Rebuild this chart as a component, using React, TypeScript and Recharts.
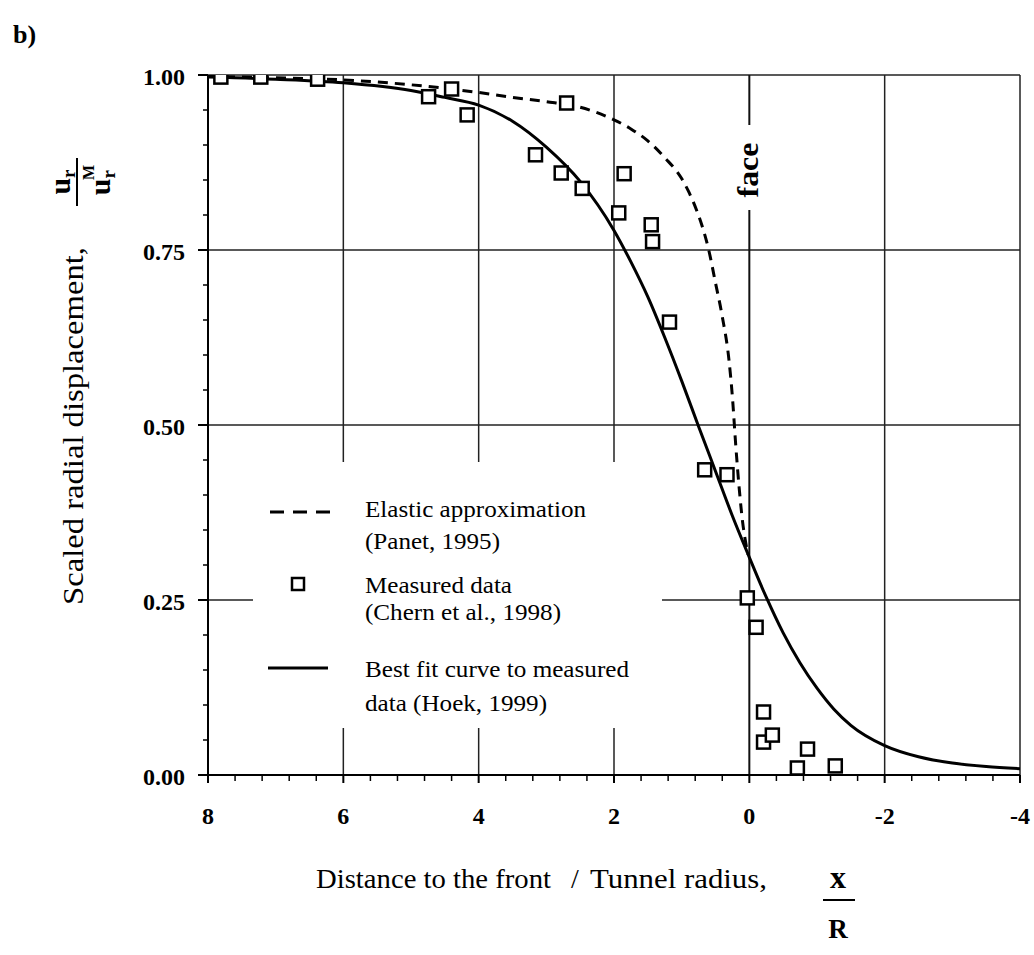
import React from 'react';
import { ComposedChart, Line, Scatter, XAxis, YAxis, ReferenceLine, Legend } from 'recharts';

const SERIF = "'Liberation Serif', 'Times New Roman', serif";

// axis ticks (every tick drawn; labelled ones are majors)
const xTicks = [8, 7.6, 7.2, 6.8, 6.4, 6, 5.6, 5.2, 4.8, 4.4, 4, 3.6, 3.2, 2.8, 2.4, 2, 1.6, 1.2, 0.8, 0.4, 0, -0.4, -0.8, -1.2, -1.6, -2, -2.4, -2.8, -3.2, -3.6, -4];
const yTicks = [0, 0.05, 0.1, 0.15, 0.2, 0.25, 0.3, 0.35, 0.4, 0.45, 0.5, 0.55, 0.6, 0.65, 0.7, 0.75, 0.8, 0.85, 0.9, 0.95, 1];
const gridX = [6, 4, 2, -2, -4];
const gridY = [0.25, 0.5, 0.75, 1];
const faceX = 0;

// Best fit curve to measured data (Hoek, 1999)
const fitX = [8, 7, 6, 5, 4.5, 4, 3.5, 3, 2.5, 2, 1.75, 1.5, 1.25, 1, 0.75, 0.5, 0.25, 0, -0.25, -0.5, -0.75, -1, -1.25, -1.5, -2, -2.5, -3, -3.5, -4];
const fitY = [0.997, 0.994, 0.989, 0.978, 0.968, 0.957, 0.934, 0.897, 0.848, 0.778, 0.733, 0.683, 0.625, 0.563, 0.498, 0.434, 0.37, 0.311, 0.254, 0.203, 0.16, 0.124, 0.094, 0.071, 0.042, 0.026, 0.017, 0.012, 0.009];

// Elastic approximation (Panet, 1995)
const elasticX = [8, 7, 6, 5, 4.5, 4, 3.5, 3, 2.5, 2, 1.75, 1.5, 1.25, 1, 0.9, 0.8, 0.7, 0.6, 0.5, 0.4, 0.3, 0.25, 0.2, 0.15, 0.1, 0.05, 0.02];
const elasticY = [0.998, 0.996, 0.993, 0.986, 0.981, 0.975, 0.968, 0.962, 0.954, 0.936, 0.923, 0.906, 0.882, 0.852, 0.834, 0.812, 0.785, 0.75, 0.703, 0.655, 0.592, 0.54, 0.47, 0.41, 0.362, 0.33, 0.315];

// Measured data (Chern et al., 1998)
const measuredX = [7.81, 7.22, 6.38, 4.74, 4.4, 4.17, 3.16, 2.78, 2.7, 2.47, 1.93, 1.85, 1.45, 1.43, 1.18, 0.66, 0.33, 0.03, -0.1, -0.21, -0.21, -0.34, -0.71, -0.86, -1.27];
const measuredY = [0.997, 0.997, 0.994, 0.969, 0.98, 0.943, 0.886, 0.86, 0.96, 0.838, 0.803, 0.859, 0.786, 0.762, 0.647, 0.436, 0.429, 0.253, 0.211, 0.09, 0.047, 0.057, 0.01, 0.037, 0.013];

const fitData = fitX.map((x, i) => ({ x, y: fitY[i] }));
const elasticData = elasticX.map((x, i) => ({ x, y: elasticY[i] }));
const measuredData = measuredX.map((x, i) => ({ x, y: measuredY[i] }));

const isMajorX = (v: number) => Math.abs(v / 2 - Math.round(v / 2)) < 1e-6;
const isMajorY = (v: number) => Math.abs(v * 4 - Math.round(v * 4)) < 1e-6;

const XTick = (props: any) => {
  const { x, y, payload } = props;
  const v = payload.value;
  const major = isMajorX(v);
  return (
    <g>
      <line x1={x} y1={y} x2={x} y2={y + (major ? 8 : 6)} stroke="#000" strokeWidth={major ? 2 : 1.5} />
      {major && (
        <text x={x} y={y + 48.5} textAnchor="middle" fontFamily={SERIF} fontSize={24} fontWeight="bold" fill="#000">
          {String(v)}
        </text>
      )}
    </g>
  );
};

const YTick = (props: any) => {
  const { x, y, payload } = props;
  const v = payload.value;
  const major = isMajorY(v);
  return (
    <g>
      <line x1={x - (major ? 10 : 5)} y1={y} x2={x} y2={y} stroke="#000" strokeWidth={major ? 2 : 1.5} />
      {major && (
        <text x={x - 23} y={y + 9.5} textAnchor="end" fontFamily={SERIF} fontSize={24} fontWeight="bold" fill="#000">
          {v.toFixed(2)}
        </text>
      )}
    </g>
  );
};

const XTitle = (props: any) => {
  const vb = props.viewBox || { x: 208, y: 775 };
  const bx = vb.x;
  const by = vb.y;
  return (
    <g fontFamily={SERIF} fill="#000">
      <text x={bx + 108} y={by + 113} fontSize={28} textLength={235} lengthAdjust="spacingAndGlyphs">Distance to the front</text>
      <text x={bx + 367} y={by + 113} fontSize={28} textAnchor="middle">/</text>
      <text x={bx + 382} y={by + 113} fontSize={28} textLength={177} lengthAdjust="spacingAndGlyphs">Tunnel radius,</text>
      <text x={bx + 630} y={by + 113} fontSize={32} fontWeight="bold" textAnchor="middle">x</text>
      <line x1={bx + 615} y1={by + 125} x2={bx + 647} y2={by + 125} stroke="#000" strokeWidth={2} />
      <text x={bx + 630} y={by + 163} fontSize={27} fontWeight="bold" textAnchor="middle">R</text>
    </g>
  );
};

const YTitle = (props: any) => {
  const vb = props.viewBox || { x: 0, y: 75 };
  const tx = vb.x + 83;
  const ty = vb.y + 530;
  const fx = vb.x + 77;
  const fy = vb.y + 107;
  return (
    <g fontFamily={SERIF} fill="#000">
      <text x={vb.x + 13} y={vb.y - 32} fontSize={26} fontWeight="bold">b)</text>
      <text x={tx} y={ty} fontSize={30} transform={`rotate(-90 ${tx} ${ty})`} textLength={358} lengthAdjust="spacingAndGlyphs">
        Scaled radial displacement,
      </text>
      <g transform={`rotate(-90 ${fx} ${fy})`}>
        <text x={fx} y={fy - 7} fontSize={30} fontWeight="bold" textAnchor="middle">
          u<tspan fontSize={19} dy={5}>r</tspan>
        </text>
        <line x1={fx - 24} y1={fy} x2={fx + 24} y2={fy} stroke="#000" strokeWidth={2} />
        <text x={fx + 2} y={fy + 33} fontSize={30} fontWeight="bold" textAnchor="middle">
          u<tspan fontSize={19} dy={5}>r</tspan>
          <tspan fontSize={16} dx={-10} dy={-21}>M</tspan>
        </text>
      </g>
    </g>
  );
};

const FaceLabel = (props: any) => {
  const vb = props.viewBox || { x: 749, y: 75 };
  const cx = vb.x;
  const top = vb.y;
  const tx = cx + 9;
  const ty = top + 95;
  return (
    <g>
      <rect x={cx - 4} y={top + 50} width={8} height={85} fill="#fff" />
      <text x={tx} y={ty} transform={`rotate(-90 ${tx} ${ty})`} textAnchor="middle" fontFamily={SERIF} fontSize={30} fontWeight="bold" fill="#000" textLength={55} lengthAdjust="spacingAndGlyphs">
        face
      </text>
    </g>
  );
};

const LegendBox = () => (
  <svg width={409} height={266} style={{ display: 'block' }}>
    <g fontFamily={SERIF} fontSize={24} fill="#000">
      <line x1={17} y1={50} x2={77} y2={50} stroke="#000" strokeWidth={3} strokeDasharray="14 9" />
      <text x={112} y={55} textLength={221} lengthAdjust="spacingAndGlyphs">Elastic approximation</text>
      <text x={112} y={87} textLength={135} lengthAdjust="spacingAndGlyphs">(Panet, 1995)</text>
      <rect x={39} y={116} width={12} height={12} fill="#fff" stroke="#000" strokeWidth={2.5} />
      <text x={112} y={131} textLength={147} lengthAdjust="spacingAndGlyphs">Measured data</text>
      <text x={112} y={158} textLength={196} lengthAdjust="spacingAndGlyphs">(Chern et al., 1998)</text>
      <line x1={15} y1={206} x2={75} y2={206} stroke="#000" strokeWidth={3} />
      <text x={112} y={215} textLength={264} lengthAdjust="spacingAndGlyphs">Best fit curve to measured</text>
      <text x={112} y={249} textLength={182} lengthAdjust="spacingAndGlyphs">data (Hoek, 1999)</text>
    </g>
  </svg>
);

const SquareShape = (props: any) => {
  const { cx, cy } = props;
  if (cx == null || cy == null) return null;
  return <rect x={cx - 6.5} y={cy - 6.5} width={13} height={13} fill="#fff" stroke="#000" strokeWidth={2.5} />;
};

export default function App() {
  return (
    <div style={{ position: 'absolute', left: 0, top: 0, width: 1034, height: 955, background: '#fff' }}>
      <ComposedChart width={1034} height={955} margin={{ top: 75, right: 14, bottom: 0, left: 0 }}>
        <XAxis
          type="number"
          dataKey="x"
          domain={[-4, 8]}
          reversed
          allowDataOverflow
          ticks={xTicks}
          interval={0}
          tickLine={false}
          tickSize={0}
          tickMargin={0}
          tick={<XTick />}
          axisLine={{ stroke: '#000', strokeWidth: 2 }}
          height={180}
          label={<XTitle />}
        />
        <YAxis
          type="number"
          dataKey="y"
          domain={[0, 1]}
          allowDataOverflow
          ticks={yTicks}
          interval={0}
          tickLine={false}
          tickSize={0}
          tickMargin={0}
          tick={<YTick />}
          axisLine={{ stroke: '#000', strokeWidth: 2 }}
          width={208}
          label={<YTitle />}
        />
        {gridY.map((v) => (
          <ReferenceLine key={'gy' + v} y={v} stroke="#222" strokeWidth={1.5} />
        ))}
        {gridX.map((v) => (
          <ReferenceLine key={'gx' + v} x={v} stroke="#222" strokeWidth={1.5} />
        ))}
        <ReferenceLine x={faceX} stroke="#111" strokeWidth={2} label={<FaceLabel />} />
        <Line data={elasticData} dataKey="y" type="monotone" stroke="#000" strokeWidth={3} strokeDasharray="10 7" dot={false} isAnimationActive={false} legendType="none" />
        <Line data={fitData} dataKey="y" type="monotone" stroke="#000" strokeWidth={3} dot={false} isAnimationActive={false} legendType="none" />
        <Scatter data={measuredData} dataKey="y" shape={<SquareShape />} isAnimationActive={false} legendType="none" />
        <Legend
          layout="vertical"
          align="center"
          verticalAlign="middle"
          width={409}
          height={266}
          content={<LegendBox />}
          wrapperStyle={{ left: 253, top: 462, width: 409, height: 266, backgroundColor: '#fff', margin: 0, padding: 0 }}
        />
      </ComposedChart>
    </div>
  );
}
